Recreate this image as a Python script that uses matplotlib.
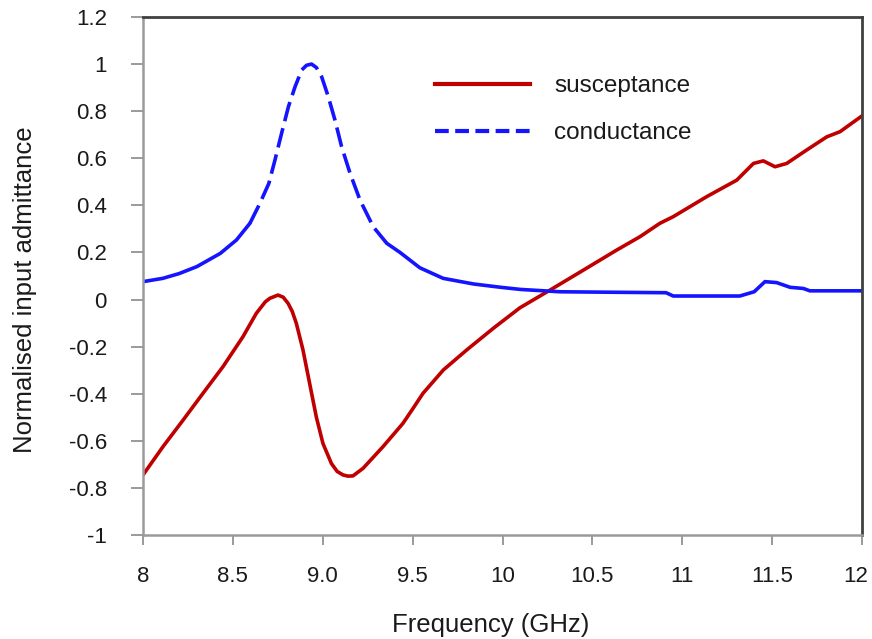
import numpy as np
import matplotlib
matplotlib.use("Agg")
import matplotlib.pyplot as plt
import matplotlib.transforms as mtransforms
from matplotlib.lines import Line2D

plt.rcParams['font.family'] = ['Liberation Sans', 'DejaVu Sans']

# Data
sus_f = [8.0, 8.111, 8.223, 8.334, 8.445, 8.556, 8.63, 8.68, 8.705, 8.751, 8.78, 8.807, 8.83,
         8.853, 8.89, 8.927, 8.964, 9.001, 9.048, 9.08, 9.113, 9.14, 9.168, 9.224, 9.335,
         9.446, 9.5, 9.558, 9.671, 9.801, 9.949, 10.097, 10.264, 10.45, 10.635, 10.765,
         10.876, 10.95, 11.136, 11.303, 11.396, 11.451, 11.516, 11.581, 11.692, 11.804,
         11.878, 12.0]
sus_v = [-0.745, -0.625, -0.512, -0.398, -0.285, -0.158, -0.059, -0.01, 0.005, 0.019, 0.01,
         -0.016, -0.05, -0.101, -0.214, -0.356, -0.498, -0.611, -0.696, -0.73, -0.745, -0.75,
         -0.749, -0.717, -0.625, -0.526, -0.465, -0.398, -0.299, -0.214, -0.122, -0.035,
         0.040, 0.125, 0.210, 0.267, 0.324, 0.352, 0.437, 0.507, 0.578, 0.589, 0.564, 0.578,
         0.635, 0.691, 0.713, 0.78]

con_f = [8.0, 8.11, 8.2, 8.3, 8.43, 8.52, 8.595, 8.65, 8.70, 8.734, 8.771, 8.809, 8.846,
         8.883, 8.91, 8.938, 8.965, 8.994, 9.031, 9.068, 9.105, 9.152, 9.207, 9.281, 9.356,
         9.43, 9.54, 9.67, 9.84, 9.99, 10.1, 10.32, 10.91, 10.95, 11.32, 11.40, 11.46,
         11.525, 11.6, 11.674, 11.71, 12.0]
con_v = [0.076, 0.09, 0.11, 0.14, 0.196, 0.253, 0.324, 0.408, 0.493, 0.592, 0.706, 0.819,
         0.904, 0.975, 0.995, 1.0, 0.985, 0.946, 0.861, 0.762, 0.649, 0.536, 0.423, 0.309,
         0.239, 0.20, 0.135, 0.09, 0.066, 0.052, 0.043, 0.033, 0.029, 0.015, 0.015, 0.033,
         0.076, 0.072, 0.052, 0.047, 0.037, 0.037]

dash_start, dash_end = 8.595, 9.356

x_ticks = [8, 8.5, 9.0, 9.5, 10, 10.5, 11, 11.5, 12]
x_labels = ["8", "8.5", "9.0", "9.5", "10", "10.5", "11", "11.5", "12"]
y_ticks = [1.2, 1, 0.8, 0.6, 0.4, 0.2, 0, -0.2, -0.4, -0.6, -0.8, -1]
y_labels = ["1.2", "1", "0.8", "0.6", "0.4", "0.2", "0", "-0.2", "-0.4", "-0.6", "-0.8", "-1"]

red = '#C00000'
blue = '#1414FF'
txt = '#1a1a1a'
lw = 2.6

fig = plt.figure(figsize=(8.72, 6.39), dpi=100)
ax = fig.add_axes([143 / 872, 1 - 535 / 639, 719 / 872, 518 / 639])

ax.plot(sus_f, sus_v, color=red, lw=lw, solid_capstyle='round', solid_joinstyle='round')

cf = np.array(con_f)
cv = np.array(con_v)
lo = cf <= dash_start
mid = (cf >= dash_start) & (cf <= dash_end)
hi = cf >= dash_end
ax.plot(cf[mid], cv[mid], color=blue, lw=lw, dashes=(5.5, 2.0))
ax.plot(cf[lo], cv[lo], color=blue, lw=lw, solid_capstyle='round', solid_joinstyle='round')
ax.plot(cf[hi], cv[hi], color=blue, lw=lw, solid_capstyle='round', solid_joinstyle='round')

ax.set_xlim(8, 12)
ax.set_ylim(-1, 1.2)
ax.set_xticks(x_ticks)
ax.set_xticklabels(x_labels)
ax.set_yticks(y_ticks)
ax.set_yticklabels(y_labels)

ax.tick_params(axis='both', direction='out', width=1.4, color='#9a9a9a',
               labelsize=16, labelcolor=txt)
ax.tick_params(axis='x', length=7, pad=15.5)
ax.tick_params(axis='y', length=9, pad=17)

# nudge the last x tick label inward so it stays within the figure
last = ax.get_xticklabels()[-1]
last.set_transform(last.get_transform() +
                   mtransforms.ScaledTranslation(-6 / 100, 0, fig.dpi_scale_trans))

for s in ['left', 'bottom']:
    ax.spines[s].set_color('#9a9a9a')
    ax.spines[s].set_linewidth(1.8)
for s in ['top', 'right']:
    ax.spines[s].set_color('#404040')
    ax.spines[s].set_linewidth(2.0)

fig.text(491 / 872, 1 - 632 / 639, 'Frequency (GHz)', fontsize=18.5, color=txt,
         ha='center', va='baseline')
fig.text(25 / 872, 1 - 290 / 639, 'Normalised input admittance', fontsize=18.5,
         color=txt, rotation=90, ha='center', va='center')

handles = [Line2D([], [], color=red, lw=3.0),
           Line2D([], [], color=blue, lw=3.0, dashes=(3.3, 1.55))]
leg = ax.legend(handles, ['susceptance', 'conductance'], loc='upper left',
                bbox_to_anchor=((435 - 143) / 719, (535 - 75) / 518), frameon=False,
                fontsize=17.5, handlelength=3.9, labelspacing=1.03, handletextpad=1.0,
                borderpad=0, borderaxespad=0)
for t in leg.get_texts():
    t.set_color(txt)

fig.savefig('out.png', dpi=100)
